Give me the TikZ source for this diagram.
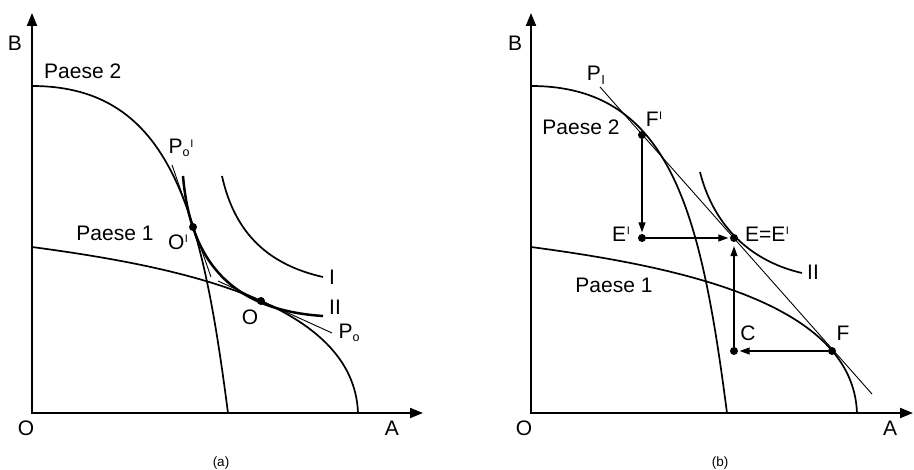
\documentclass[tikz,border=0pt]{standalone}
\usepackage{fontspec}
\setmainfont{Liberation Sans}
\usetikzlibrary{arrows.meta}
\newcommand\myprime{\kern0.6pt\raisebox{6.5pt}{\fontsize{11}{11}\selectfont I}}
\newcommand\subo{\raisebox{-3pt}{\fontsize{12.5}{12.5}\selectfont o}}
\newcommand\subI{\kern0.5pt\raisebox{-4pt}{\fontsize{13}{13}\selectfont I}}
\begin{document}
\begin{tikzpicture}[x=1pt,y=-1pt,
  curve/.style={line width=1.7pt},
  thickcurve/.style={line width=2.5pt},
  tangent/.style={line width=0.9pt},
  axis/.style={line width=2pt,line join=miter,{Triangle[length=13pt,width=10pt]}-{Triangle[length=13pt,width=10pt]}},
  dot/.style={circle,fill=black,inner sep=0pt,minimum size=8pt},
  arr/.style={line width=1.2pt,-{Triangle[length=10pt,width=7pt]},shorten >=1.5pt},
  lab/.style={font=\fontsize{21}{21}\selectfont,inner sep=0pt},
  captext/.style={font=\fontsize{13.5}{13.5}\selectfont,inner sep=0pt}]
\useasboundingbox (0,0) rectangle (914,470);

% ---------------- panel (a) ----------------
\coordinate (aO) at (32,413);
\coordinate (aY) at (32,13);
\coordinate (aX) at (423,413);
\draw[axis] (aY) -- (aO) -- (aX);

% Paese 2 and Paese 1
\draw[curve] (32,86) .. controls (172,86) and (202,213) .. (228,413);
\draw[curve] (32,247) .. controls (182,267) and (354,303) .. (358,413);

% indifference curves
\draw[curve] (222,176) .. controls (235,235) and (270,265) .. (323,277);
\draw[thickcurve] (183,176) .. controls (190,260) and (230,310) .. (323,316);

% tangent lines
\coordinate (tpa1) at (172,165);
\coordinate (tpa2) at (211,277);
\draw[tangent] (tpa1) -- (tpa2);
\coordinate (tpb1) at (218,281);
\coordinate (tpb2) at (332,333);
\draw[tangent] (tpb1) -- (tpb2);

% points
\node[dot] (Opr) at (193,227) {};
\node[dot] (Opt) at (261,301) {};

% labels
\node[lab] (lB) at (15,43) {B};
\node[lab,anchor=west] (lP2a) at (44,71) {Paese 2};
\node[lab] (lP1a) at (115,233) {Paese 1};
\node[lab] (lPop) at (181,148) {P\subo\myprime};
\node[lab] (lOp) at (178,242) {O\myprime};
\node[lab] (lI) at (332,277) {I};
\node[lab] (lIIa) at (335,307) {II};
\node[lab] (lO) at (250,317) {O};
\node[lab] (lPo) at (349,333) {P\subo};
\node[lab] (lOa) at (26,428) {O};
\node[lab] (lAa) at (392,428) {A};
\node[captext] (capa) at (221,463) {(a)};

% ---------------- panel (b) ----------------
\coordinate (bO) at (531,413);
\coordinate (bY) at (531,13);
\coordinate (bX) at (913,413);
\draw[axis] (bY) -- (bO) -- (bX);

\draw[curve] (531,86) .. controls (671,86) and (701,213) .. (727,413);
\draw[curve] (531,247) .. controls (681,267) and (853,303) .. (857,413);

\draw[curve] (700,172) .. controls (712,220) and (745,260) .. (802,273);

\coordinate (tpc1) at (600,87);
\coordinate (tpc2) at (872,394);
\draw[tangent] (tpc1) -- (tpc2);

\node[dot] (Fp) at (642,135) {};
\node[dot] (Ep) at (642,238) {};
\node[dot] (E) at (734,238) {};
\node[dot] (C) at (734,351) {};
\node[dot] (F) at (832,351) {};

\draw[arr] (Fp) -- (Ep);
\draw[arr] (Ep) -- (E);
\draw[arr] (F) -- (C);
\draw[arr,shorten >=4pt] (C) -- (E);

\node[lab] (lBb) at (515,43) {B};
\node[lab] (lPI) at (596,75) {P\subI};
\node[lab] (lFp) at (654,119) {F\myprime};
\node[lab] (lP2b) at (581,127) {Paese 2};
\node[lab] (lEp) at (621,234) {E\myprime};
\node[lab] (lEE) at (767,234) {E=E\myprime};
\node[lab] (lIIb) at (813,272) {II};
\node[lab] (lP1b) at (614,285) {Paese 1};
\node[lab] (lC) at (748,333) {C};
\node[lab] (lF) at (843,333) {F};
\node[lab] (lOb) at (524,428) {O};
\node[lab] (lAb) at (890,428) {A};
\node[captext] (capb) at (720,463) {(b)};
\end{tikzpicture}
\end{document}
